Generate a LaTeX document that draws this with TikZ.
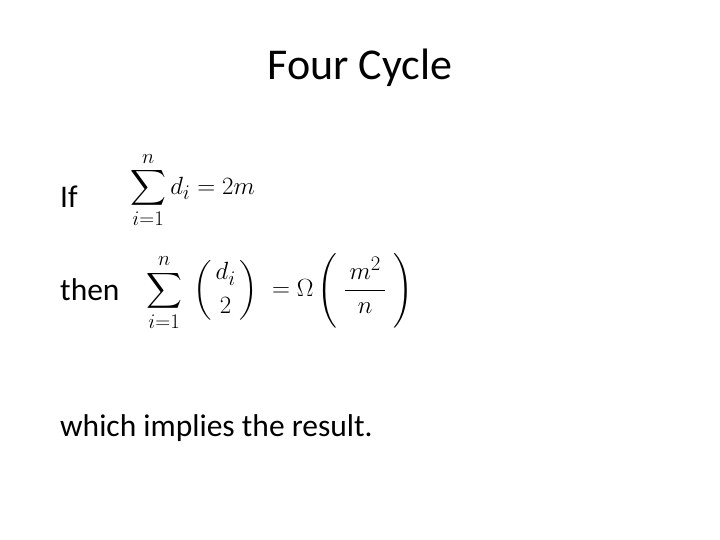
\documentclass[tikz,border=0pt]{standalone}
\usepackage{amsmath}
\usepackage{fontspec}
\setmainfont{Carlito}
\begin{document}
\begin{tikzpicture}[x=1pt,y=-1pt,
  txt/.style={anchor=west,inner sep=0pt,font=\fontsize{31.5}{36}\selectfont},
  mth/.style={anchor=west,inner sep=0pt}]
\useasboundingbox[fill=white] (0,0) rectangle (720,540);
\node[inner sep=0pt,font=\fontsize{44}{50}\selectfont] (title) at (360,68) {Four Cycle};
\node[txt] (if) at (60,197) {If};
\node[txt] (then) at (60,290) {then};
\node[txt] (which) at (60,428) {which implies the result.};
\node[mth,font=\fontsize{28}{32}\selectfont] (eq1) at (130,190) {$\displaystyle\sum_{i=1}^{n} d_i = 2m$};
\node[mth,font=\fontsize{31}{36}\selectfont] (eq2) at (146,292) {$\displaystyle\sum_{i=1}^{n}\;\binom{\,d_i\,}{2}\; = \Omega\left(\;\frac{\,m^2\,}{n}\;\right)$};
\end{tikzpicture}
\end{document}
